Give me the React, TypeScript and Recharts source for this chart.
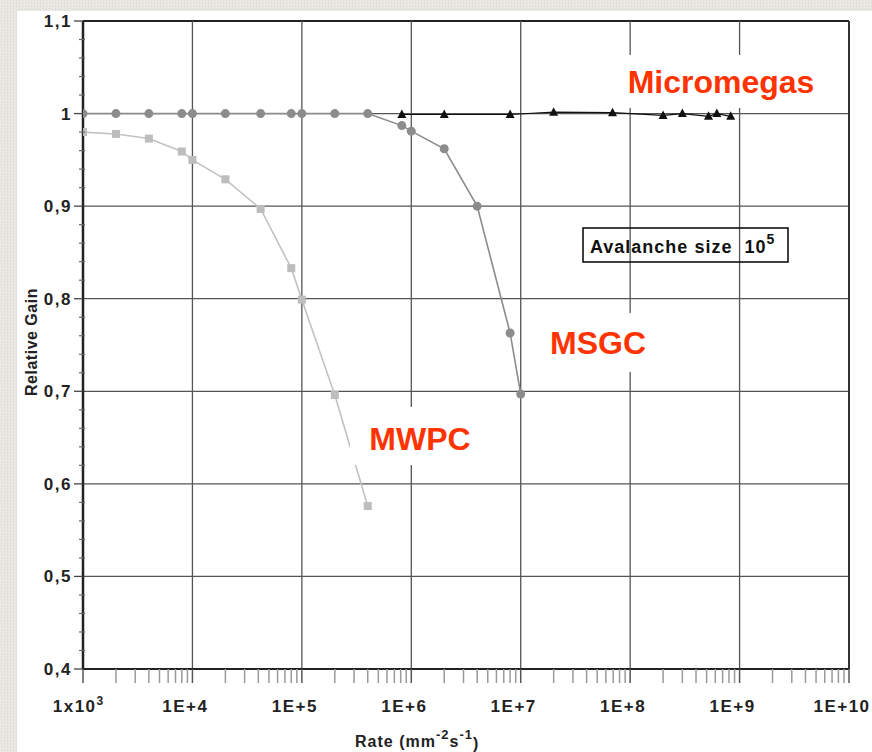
import React from 'react';
import { ScatterChart, Scatter, XAxis, YAxis, ReferenceLine } from 'recharts';

// ---- data ----
const mwpcRate = [1e3, 2e3, 4e3, 8e3, 1e4, 2e4, 4.2e4, 8e4, 1e5, 2e5, 4e5];
const mwpcGain = [0.98, 0.978, 0.973, 0.959, 0.95, 0.929, 0.897, 0.833, 0.799, 0.696, 0.576];

const msgcRate = [1e3, 2e3, 4e3, 8e3, 1e4, 2e4, 4.2e4, 8e4, 1e5, 2e5, 4e5, 8.2e5, 1e6, 2e6, 4e6, 8e6, 1e7];
const msgcGain = [1, 1, 1, 1, 1, 1, 1, 1, 1, 1, 1, 0.987, 0.981, 0.962, 0.9, 0.763, 0.697];

const microRate = [8.2e5, 2e6, 8e6, 2e7, 6.9e7, 2e8, 3e8, 5.2e8, 6.2e8, 8.3e8];
const microGain = [0.999, 0.999, 0.999, 1.0015, 1.001, 0.998, 1.0, 0.997, 1.0, 0.997];

// ---- ticks ----
const xDecades = [1e3, 1e4, 1e5, 1e6, 1e7, 1e8, 1e9, 1e10];
const xDecadeLabels = ['1x10', '1E+4', '1E+5', '1E+6', '1E+7', '1E+8', '1E+9', '1E+10'];
const xMinorMultipliers = [2, 3, 4, 5, 6, 7, 8, 9];
const yMajor = [0.4, 0.5, 0.6, 0.7, 0.8, 0.9, 1.0, 1.1];
const yMajorLabels = ['0,4', '0,5', '0,6', '0,7', '0,8', '0,9', '1', '1,1'];
const yMinorSteps = [0.02, 0.04, 0.06, 0.08];

const xTicks: number[] = [];
xDecades.forEach((d, i) => {
  xTicks.push(d);
  if (i < xDecades.length - 1) xMinorMultipliers.forEach((m) => xTicks.push(d * m));
});
const yTicks: number[] = [];
yMajor.forEach((v, i) => {
  yTicks.push(v);
  if (i < yMajor.length - 1) yMinorSteps.forEach((s) => yTicks.push(Math.round((v + s) * 1000) / 1000));
});

const toPts = (xs: number[], ys: number[]) => xs.map((x, i) => ({ x, y: ys[i] }));
const mwpcData = toPts(mwpcRate, mwpcGain);
const msgcData = toPts(msgcRate, msgcGain);
const microData = toPts(microRate, microGain);

const FONT = '"Liberation Sans", Arial, Helvetica, sans-serif';
const RED = '#ff3300';

const XTick = (props: any) => {
  const { x, y, payload } = props;
  const idx = xDecades.findIndex((d) => Math.abs(d - payload.value) / d < 1e-6);
  const major = idx >= 0;
  return (
    <g>
      <line x1={x} x2={x} y1={y} y2={y + 14} stroke={major ? '#555' : '#9a9a9a'} strokeWidth={1.5} />
      {major && (
        <text x={idx === 0 ? x - 5 : x - 7} y={y + 43} textAnchor="middle" fontFamily={FONT} fontWeight="bold" fontSize={17} letterSpacing={1.5} fill="#222">
          {xDecadeLabels[idx]}
          {idx === 0 && (
            <tspan dy={-7} fontSize={12} letterSpacing={0}>3</tspan>
          )}
        </text>
      )}
    </g>
  );
};

const YTick = (props: any) => {
  const { x, y, payload } = props;
  const idx = yMajor.findIndex((v) => Math.abs(v - payload.value) < 1e-6);
  const major = idx >= 0;
  return (
    <g>
      {major ? (
        <line x1={x - 9} x2={x} y1={y} y2={y} stroke="#444" strokeWidth={1.3} />
      ) : (
        <line x1={x - 4} x2={x + 2} y1={y} y2={y} stroke="#666" strokeWidth={1.2} />
      )}
      {major && (
        <text x={x - 11} y={y + 6} textAnchor="end" fontFamily={FONT} fontWeight="bold" fontSize={17} letterSpacing={1.5} fill="#222">
          {yMajorLabels[idx]}
        </text>
      )}
    </g>
  );
};

const squareShape = (p: any) => <rect x={p.cx - 4} y={p.cy - 4} width={8} height={8} fill="#bdbdbd" />;
const circleShape = (p: any) => <circle cx={p.cx} cy={p.cy} r={4.5} fill="#8c8c8c" />;
const triShape = (p: any) => (
  <polygon points={`${p.cx},${p.cy - 5} ${p.cx - 4.5},${p.cy + 3.5} ${p.cx + 4.5},${p.cy + 3.5}`} fill="#111" />
);

export default function App() {
  return (
    <div
      style={{
        position: 'absolute',
        left: 0,
        top: 0,
        width: 872,
        height: 752,
        overflow: 'hidden',
        background: 'repeating-conic-gradient(#e2e0db 0 25%, #eeece8 0 50%) 0 0/3px 3px',
      }}
    >
      <div style={{ position: 'absolute', left: 17, top: 11, width: 855, height: 741, background: '#fff' }} />
      <div style={{ position: 'absolute', left: 0, top: 0 }}>
        <ScatterChart width={872} height={752} margin={{ top: 21, right: 23, left: 0, bottom: 0 }}>
          <XAxis
            type="number"
            dataKey="x"
            scale="log"
            domain={[1e3, 1e10]}
            ticks={xTicks}
            interval={0}
            allowDataOverflow
            height={83}
            tickSize={0}
            tickMargin={0}
            tick={<XTick />}
            axisLine={{ stroke: '#222', strokeWidth: 2 }}
            tickLine={false}
          />
          <YAxis
            type="number"
            dataKey="y"
            domain={[0.4, 1.1]}
            ticks={yTicks}
            interval={0}
            allowDataOverflow
            width={83}
            tickSize={0}
            tickMargin={0}
            tick={<YTick />}
            axisLine={{ stroke: '#222', strokeWidth: 2.5 }}
            tickLine={false}
          />
          {yMajor.map((v) => (
            <ReferenceLine key={'y' + v} y={v} stroke={v === 1.1 || v === 0.4 ? '#222' : '#555'} strokeWidth={v === 1.1 ? 2 : 1.3} />
          ))}
          {xDecades.slice(1).map((d) => (
            <ReferenceLine key={'x' + d} x={d} stroke={d === 1e10 ? '#333' : '#555'} strokeWidth={d === 1e10 ? 2 : 1.3} />
          ))}
          <Scatter data={mwpcData} line={{ stroke: '#c2c2c2', strokeWidth: 1.6 }} lineType="joint" shape={squareShape} isAnimationActive={false} />
          <Scatter data={msgcData} line={{ stroke: '#8c8c8c', strokeWidth: 1.6 }} lineType="joint" shape={circleShape} isAnimationActive={false} />
          <Scatter data={microData} line={{ stroke: '#111', strokeWidth: 1.2 }} lineType="joint" shape={triShape} isAnimationActive={false} />
        </ScatterChart>
      </div>
      <svg width={872} height={752} style={{ position: 'absolute', left: 0, top: 0, pointerEvents: 'none' }}>
        <rect x={615} y={55} width={215} height={53} fill="#fff" />
        <text x={721} y={93} textAnchor="middle" fontFamily={FONT} fontWeight="bold" fontSize={32} fill={RED}>Micromegas</text>
        <rect x={525} y={313} width={140} height={59} fill="#fff" />
        <text x={598} y={354} textAnchor="middle" fontFamily={FONT} fontWeight="bold" fontSize={32} fill={RED}>MSGC</text>
        <rect x={350} y={407} width={140} height={58} fill="#fff" />
        <text x={420} y={450} textAnchor="middle" fontFamily={FONT} fontWeight="bold" fontSize={32} fill={RED}>MWPC</text>

        <rect x={583} y={228} width={205} height={34} fill="none" stroke="#111" strokeWidth={1.6} />
        <text x={590} y={253} fontFamily={FONT} fontWeight="bold" fontSize={18} letterSpacing={1} fill="#111">
          Avalanche size<tspan dx={12}>10</tspan>
          <tspan dy={-9} fontSize={14}>5</tspan>
        </text>

        <text x={37} y={342} transform="rotate(-90 37 342)" textAnchor="middle" fontFamily={FONT} fontWeight="bold" fontSize={16} letterSpacing={0.5} fill="#222">
          Relative Gain
        </text>
        <text x={355} y={747} fontFamily={FONT} fontWeight="bold" fontSize={16} letterSpacing={1} fill="#222">
          Rate (mm<tspan dy={-8} fontSize={13}>-2</tspan>
          <tspan dy={8}>s</tspan>
          <tspan dy={-8} fontSize={13}>-1</tspan>
          <tspan dy={10}>)</tspan>
        </text>
      </svg>
    </div>
  );
}
